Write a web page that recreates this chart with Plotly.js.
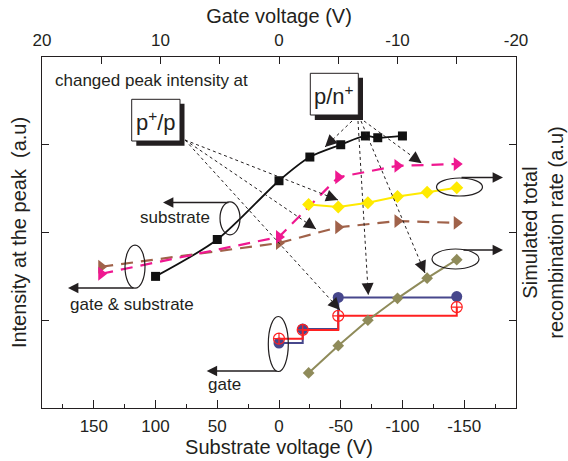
<!DOCTYPE html>
<html>
<head>
<meta charset="utf-8">
<script src="https://cdn.plot.ly/plotly-3.0.1.min.js"></script>
<style>html,body{margin:0;padding:0;background:#fff;}#chart{width:568px;height:461px;}</style>
</head>
<body>
<div id="chart"></div>
<script>
// ---- data ----
const substrateVolt = [100, 50, 0, -25, -50, -70, -80, -100];
const intensitySubstrate = [1.50, 1.92, 2.59, 2.86, 3.00, 3.10, 3.08, 3.10];

const gateSubVolt = [15, 0, -5, -10, -15];
const intensityPink = [1.53, 1.95, 2.63, 2.76, 2.78];
const intensityBrown = [1.61, 1.88, 2.06, 2.13, 2.11];

const gateSimVolt = [-2.5, -5, -7.5, -10, -12.5, -15];
const simYellow = [2.32, 2.29, 2.34, 2.41, 2.46, 2.51];
const simOlive = [0.40, 0.71, 1.00, 1.25, 1.48, 1.69];

const gateStepVolt = [0, -2, -5, -15];
const intensityBlue = [0.74, 0.90, 1.26, 1.27];
const intensityRed = [0.79, 0.89, 1.05, 1.15];

const subTickVals = [150, 100, 50, 0, -50, -100, -150];
const subTickText = ['150', '100', '50', '0', '-50', '-100', '-150'];
const gateTickVals = [20, 10, 0, -10, -20];
const gateTickText = ['20', '10', '0', '-10', '-20'];
const yTickVals = [1, 2, 3];

// ---- styling / layout ----
const INK = '#231f20';
const FONT = 'Arial, "Liberation Sans", Helvetica, sans-serif';
const W = 568, H = 461, ML = 42, MR = 52, MT = 57, MB = 53;
const PW = W - ML - MR, PH = H - MT - MB;
const PX = px => (px - ML) / PW;
const PY = py => (H - MB - py) / PH;

const traces = [
  {x: substrateVolt, y: intensitySubstrate, xaxis: 'x', yaxis: 'y', mode: 'lines+markers',
   line: {color: '#111', width: 1.8, shape: 'spline', smoothing: 0.8},
   marker: {symbol: 'square', size: 9, color: '#111'}},
  {x: gateSubVolt, y: intensityBrown, xaxis: 'x2', yaxis: 'y', mode: 'lines+markers',
   line: {color: '#a0624a', width: 2.2, dash: '12px,8px'},
   marker: {symbol: 'triangle-right', size: 12, color: '#a0624a'}},
  {x: gateSubVolt, y: intensityPink, xaxis: 'x2', yaxis: 'y', mode: 'lines+markers',
   line: {color: '#ef1890', width: 2.2, dash: '12px,8px'},
   marker: {symbol: 'triangle-right', size: 12, color: '#ef1890'}},
  {x: gateSimVolt, y: simYellow, xaxis: 'x2', yaxis: 'y2', mode: 'lines+markers',
   line: {color: '#ffea00', width: 2},
   marker: {symbol: 'diamond', size: 10, color: '#ffea00'}},
  {x: gateSimVolt, y: simOlive, xaxis: 'x2', yaxis: 'y2', mode: 'lines+markers',
   line: {color: '#8f8b5a', width: 2},
   marker: {symbol: 'diamond', size: 9, color: '#8f8b5a'}},
  {x: gateStepVolt, y: intensityBlue, xaxis: 'x2', yaxis: 'y', mode: 'lines+markers',
   line: {color: '#47478c', width: 2, shape: 'hv'},
   marker: {symbol: 'circle', size: 11, color: '#47478c'}},
  {x: gateStepVolt, y: intensityRed, xaxis: 'x2', yaxis: 'y', mode: 'lines+markers',
   line: {color: '#ff2020', width: 2, shape: 'hv'},
   marker: {symbol: 'circle-cross-open', size: 11, color: '#ff2020', line: {width: 1.2}}}
];

function ellipse(cx, cy, w, h) {
  return {type: 'circle', xref: 'paper', yref: 'paper',
    x0: PX(cx - w / 2), x1: PX(cx + w / 2), y0: PY(cy + h / 2), y1: PY(cy - h / 2),
    line: {color: INK, width: 1.2}};
}
function rect(x0, y0, x1, y1, fill, lw) {
  return {type: 'rect', xref: 'paper', yref: 'paper', x0: PX(x0), x1: PX(x1), y0: PY(y1), y1: PY(y0),
    fillcolor: fill, line: {color: INK, width: lw}};
}
function dotted(x0, y0, x1, y1) {
  return {type: 'line', xref: 'paper', yref: 'paper', x0: PX(x0), y0: PY(y0), x1: PX(x1), y1: PY(y1),
    line: {color: INK, width: 1, dash: 'dot'}};
}
function head(sx, sy, tx, ty, L) {
  const d = Math.hypot(sx - tx, sy - ty);
  return {xref: 'paper', yref: 'paper', x: PX(tx), y: PY(ty), text: '',
    ax: (sx - tx) / d * L, ay: (sy - ty) / d * L, showarrow: true,
    arrowhead: 2, arrowsize: 2.4, arrowwidth: 1, arrowcolor: INK, standoff: 0};
}
function solidArrow(sx, sy, tx, ty) {
  return {xref: 'paper', yref: 'paper', x: PX(tx), y: PY(ty), text: '',
    ax: sx - tx, ay: sy - ty, showarrow: true,
    arrowhead: 2, arrowsize: 1.6, arrowwidth: 1.3, arrowcolor: INK, standoff: 0};
}
function label(x, y, text, size, xanchor) {
  return {xref: 'paper', yref: 'paper', x: PX(x), y: PY(y), text: text, showarrow: false,
    xanchor: xanchor || 'center', yanchor: 'middle', font: {size: size, color: INK, family: FONT}};
}

const dottedLines = [
  [185, 140, 338, 200], [185, 140, 316, 229], [185, 140, 340, 310],
  [352, 121, 325, 147], [364, 121, 421.7, 163.3], [358, 121, 368.3, 295], [361, 121, 425, 273]
];

const shapes = [
  ...dottedLines.map(l => dotted(...l)),
  ellipse(230, 218.3, 20, 33),
  ellipse(135, 266.7, 20, 43),
  ellipse(278.3, 344, 20, 55),
  ellipse(459.5, 187, 46, 18),
  ellipse(455.5, 259, 47, 20),
  rect(136.3, 103.8, 184.5, 145.8, INK, 0),
  rect(131.7, 99.3, 180, 141, '#ffffff', 1),
  rect(314.8, 77.8, 363, 120, INK, 0),
  rect(310.3, 73.3, 358.3, 115, '#ffffff', 1)
];

const annotations = [
  ...dottedLines.map(l => head(l[0], l[1], l[2], l[3], 11)),
  solidArrow(230, 202.5, 163, 202.5),
  solidArrow(135, 288, 68, 288),
  solidArrow(278, 371, 206.7, 371),
  solidArrow(460, 177.5, 503, 177.5),
  solidArrow(462, 250, 503, 250),
  label(53, 80, 'changed peak intensity at', 17, 'left'),
  label(175, 217, 'substrate', 17),
  label(131.5, 304, 'gate &amp; substrate', 17),
  label(224, 384, 'gate', 17),
  label(155.8, 121, 'p<sup>+</sup>/p', 22),
  label(334.3, 95, 'p/n<sup>+</sup>', 22)
];

const axisCommon = {showline: true, linecolor: INK, linewidth: 1.3, showgrid: false, zeroline: false,
  ticks: 'inside', tickcolor: INK, tickwidth: 1, tickfont: {size: 17, color: INK, family: FONT}};

const layout = {
  width: W, height: H, margin: {l: ML, r: MR, t: MT, b: MB},
  paper_bgcolor: '#fff', plot_bgcolor: '#fff', showlegend: false,
  font: {family: FONT, color: INK},
  xaxis: Object.assign({}, axisCommon, {range: [192, -192], tickmode: 'array', tickvals: subTickVals,
    ticktext: subTickText, ticklen: 8, ticklabelstandoff: 2,
    minor: {tickmode: 'linear', tick0: 25, dtick: 50, ticks: 'inside', ticklen: 4, tickcolor: INK, tickwidth: 1},
    title: {text: 'Substrate voltage (V)', font: {size: 20, color: INK, family: FONT}, standoff: 5}}),
  xaxis2: Object.assign({}, axisCommon, {overlaying: 'x', side: 'top', anchor: 'y', range: [20, -20],
    tickmode: 'array', tickvals: gateTickVals, ticktext: gateTickText, ticklen: 7, ticklabelstandoff: 3,
    minor: {tickmode: 'linear', tick0: 5, dtick: 10, ticks: 'inside', ticklen: 7, tickcolor: INK, tickwidth: 1},
    title: {text: 'Gate voltage (V)', font: {size: 20, color: INK, family: FONT}, standoff: 2}}),
  yaxis: Object.assign({}, axisCommon, {range: [0, 4], tickmode: 'array', tickvals: yTickVals,
    showticklabels: false, ticklen: 7,
    title: {text: 'Intensity at the peak\u00a0\u00a0(a.u)', font: {size: 20, color: INK, family: FONT}, standoff: 8}}),
  yaxis2: Object.assign({}, axisCommon, {overlaying: 'y', side: 'right', anchor: 'x', range: [0, 4],
    tickmode: 'array', tickvals: yTickVals, showticklabels: false, ticklen: 7,
    title: {text: 'Simulated total<br>recombination rate (a.u)', font: {size: 20, color: INK, family: FONT}, standoff: 6}}),
  shapes: shapes,
  annotations: annotations
};

Plotly.newPlot('chart', traces, layout, {staticPlot: true, displayModeBar: false});
</script>
</body>
</html>
